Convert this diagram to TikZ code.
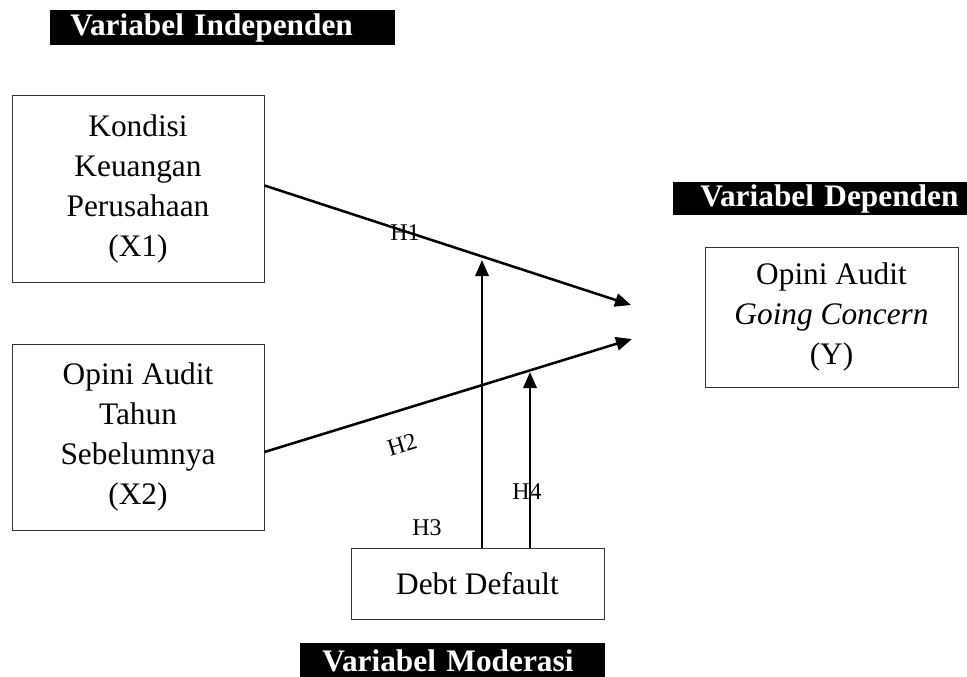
\documentclass[tikz,border=0pt]{standalone}
\usepackage{fontspec}
\setmainfont{Liberation Serif}
\usepackage{tikz}
\usetikzlibrary{calc}
\usetikzlibrary{arrows.meta}

\tikzset{
  varbox/.style={draw=black!80, line width=0.75pt, align=center, inner sep=0pt,
    font=\fontsize{23.5}{30}\selectfont},
  hdr/.style={fill=black, text=white, anchor=west, align=left, inner ysep=0pt,
    font=\fontsize{23.5}{28}\selectfont\bfseries},
  hlbl/.style={font=\fontsize{18}{20}\selectfont, inner sep=0pt},
  arr/.style={line width=1.9pt, -{Triangle[length=12pt,width=10pt]}}
}

\begin{document}
\begin{tikzpicture}[x=0.75pt,y=0.75pt,yscale=-1,xscale=1]
\useasboundingbox (0,0) rectangle (967,676);

% Header Nodes
\node [hdr, minimum height=26.25pt, inner xsep=15pt, text width=228.75pt] (hind) at (50,27.5) {Variabel Independen};
\node [hdr, minimum height=24.75pt, inner xsep=20.25pt, text width=202.5pt] (hdep) at (673,198.5) {Variabel Dependen};
\node [hdr, minimum height=26pt, inner xsep=16.5pt, text width=195.75pt] (hmod) at (300,660.5) {Variabel Moderasi};

% Boxes
\node [varbox, minimum width=189pt, minimum height=140.25pt] (x1) at (138,188.5) {Kondisi\\Keuangan\\Perusahaan\\(X1)};
\node [varbox, minimum width=189pt, minimum height=139.5pt] (x2) at (138,437) {Opini Audit\\Tahun\\Sebelumnya\\(X2)};
\node [varbox, minimum width=189.75pt, minimum height=105pt] (y) at (831.5,317) {Opini Audit\\\textit{Going Concern}\\(Y)};
\node [varbox, minimum width=189.75pt, minimum height=53.25pt] (dd) at (477.5,583.5) {Debt Default};

% Arrow ends
\coordinate (h1end) at (631,305);
\coordinate (h2end) at (632,339);
\coordinate (h3end) at (482,260);
\coordinate (h4end) at (530,372);

%Straight Lines
\draw [arr] ($(x1.east)+(0,-3)$) -- (h1end);
\draw [arr] ($(x2.east)+(0,15)$) -- (h2end);
\draw [arr] (h3end |- dd.north) -- (h3end);
\draw [arr] (h4end |- dd.north) -- (h4end);

% Text Node
\node [hlbl] (lh1) at (405,233) {H1};
% Text Node
\node [hlbl, rotate=17] (lh2) at (402,445) {H2};
% Text Node
\node [hlbl] (lh3) at (427,528) {H3};
% Text Node
\node [hlbl] (lh4) at (527,492) {H4};

\end{tikzpicture}
\end{document}
